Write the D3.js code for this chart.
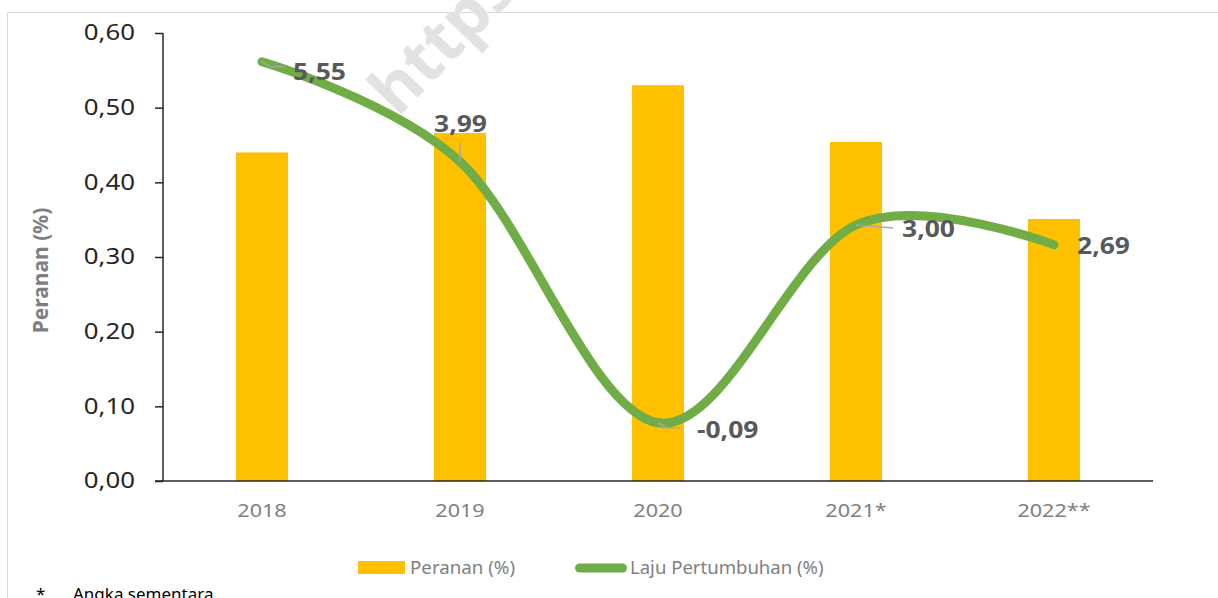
<!DOCTYPE html>
<html>
<head>
<meta charset="utf-8">
<script src="https://cdn.jsdelivr.net/npm/d3@7"></script>
<style>
  body { margin: 0; background: #fff; }
  svg { display: block; }
</style>
</head>
<body>
<div id="chart"></div>
<script>
// data
var years = ['2018', '2019', '2020', '2021*', '2022**'];
var peranan = [0.44, 0.466, 0.53, 0.454, 0.351];
var laju = [5.55, 3.99, -0.09, 3.00, 2.69];
var lajuLabels = ['5,55', '3,99', '-0,09', '3,00', '2,69'];
var yTicks = [0, 0.1, 0.2, 0.3, 0.4, 0.5, 0.6];

var width = 1218,
    height = 598,
    margin = { left: 163, right: 65, top: 33, bottom: 117 };

var chartWidth = width - margin.left - margin.right;
var chartHeight = height - margin.top - margin.bottom;

// the source picture is a bit wider than the fonts we have, stretch text to fit
function stretch(sel, k) {
    sel.each(function() {
        var w = this.getComputedTextLength();
        d3.select(this)
            .attr('textLength', w * k)
            .attr('lengthAdjust', 'spacingAndGlyphs');
    });
}

var svg = d3.select('#chart').append('svg')
    .attr('width', width)
    .attr('height', height);

// outer frame
svg.append('rect')
    .attr('x', 7.5).attr('y', 12.5)
    .attr('width', width)
    .attr('height', height)
    .attr('fill', 'none')
    .attr('stroke', '#d9d9d9')
    .attr('stroke-width', 1);

// watermark
svg.append('text')
    .attr('transform', 'translate(398,118) rotate(-46)')
    .attr('font-family', 'Noto Sans')
    .attr('font-weight', 'bold')
    .attr('font-size', 66)
    .attr('fill', '#e2e2e2')
    .text('https');

var g = svg.append('g')
    .attr('transform', 'translate(' + margin.left + ',' + margin.top + ')');

var x = d3.scaleBand().domain(years).range([0, chartWidth]);
var y = d3.scaleLinear().domain([0, 0.6]).range([chartHeight, 0]);
// hidden secondary axis for growth
var y2 = d3.scaleLinear().domain([-1, 6]).range([chartHeight, 0]);

var barW = 52;

// bars
g.selectAll('rect.bar')
    .data(peranan)
    .enter().append('rect')
    .attr('class', 'bar')
    .attr('x', (d, i) => x(years[i]) + x.bandwidth() / 2 - barW / 2)
    .attr('y', d => y(d))
    .attr('width', barW)
    .attr('height', d => chartHeight - y(d))
    .attr('fill', '#FFC000');

// y axis
var yAxis = d3.axisLeft(y)
    .tickValues(yTicks)
    .tickSize(8)
    .tickPadding(20)
    .tickFormat(d => d3.format('.2f')(d).replace('.', ','));

var yG = g.append('g').attr('class', 'axis y').call(yAxis);
yG.select('.domain').attr('stroke', '#262626').attr('stroke-width', 1.5)
    .attr('d', 'M0,0V' + chartHeight);
yG.selectAll('.tick line').attr('stroke', '#262626').attr('stroke-width', 1.5);
yG.selectAll('.tick text')
    .attr('font-family', 'Noto Sans')
    .attr('font-size', 21)
    .attr('fill', '#262626')
    .call(stretch, 1.23);

// x axis
var xAxis = d3.axisBottom(x).tickSize(0).tickPadding(23);
var xG = g.append('g').attr('class', 'axis x')
    .attr('transform', 'translate(0,' + chartHeight + ')')
    .call(xAxis);
xG.select('.domain').attr('stroke', '#262626').attr('stroke-width', 1.5)
    .attr('d', 'M-8,0H' + chartWidth);
xG.selectAll('.tick text')
    .attr('font-family', 'Noto Sans')
    .attr('font-size', 18)
    .attr('fill', '#7f7f7f')
    .call(stretch, 1.2);

// y title
svg.append('text')
    .attr('transform', 'translate(48,' + (margin.top + chartHeight * 0.53) + ') rotate(-90)')
    .attr('text-anchor', 'middle')
    .attr('font-family', 'Noto Sans')
    .attr('font-weight', 'bold')
    .attr('font-size', 21)
    .attr('fill', '#7f7f7f')
    .text('Peranan (%)');

// growth line
var line = d3.line()
    .x((d, i) => x(years[i]) + x.bandwidth() / 2)
    .y(d => y2(d))
    .curve(d3.curveCardinal.tension(0));

g.append('path')
    .datum(laju)
    .attr('d', line)
    .attr('fill', 'none')
    .attr('stroke', '#70AD47')
    .attr('stroke-width', 9)
    .attr('stroke-linecap', 'round');

// leader lines + labels
var labelDx = [31, -26, 39, 46, 23];
var labelDy = [10, -38, 7, 4, 1];

g.selectAll('path.leader')
    .data(laju.slice(0, 4))
    .enter().append('path')
    .attr('class', 'leader')
    .attr('d', (d, i) => {
        var cx = x(years[i]) + x.bandwidth() / 2, cy = y2(d);
        if (i === 1) return 'M' + cx + ',' + cy + 'V' + (cy - 19);
        if (i === 3) return 'M' + cx + ',' + cy + 'L' + (cx + 37) + ',' + (cy + 3);
        return 'M' + cx + ',' + cy + 'L' + (cx + 9) + ',' + (cy + 5) + 'H' + (cx + 23);
    })
    .attr('fill', 'none')
    .attr('stroke', '#a6a6a6')
    .attr('stroke-width', 1.5);

g.selectAll('text.lbl')
    .data(laju)
    .enter().append('text')
    .attr('class', 'lbl')
    .attr('x', (d, i) => x(years[i]) + x.bandwidth() / 2 + labelDx[i])
    .attr('y', (d, i) => y2(d) + labelDy[i])
    .attr('dy', '0.35em')
    .attr('font-family', 'Noto Sans')
    .attr('font-weight', 'bold')
    .attr('font-size', 23)
    .attr('fill', '#595959')
    .text((d, i) => lajuLabels[i])
    .call(stretch, 1.15);

// legend
var leg = svg.append('g').attr('transform', 'translate(0,568)');
leg.append('rect')
    .attr('x', 358).attr('y', -7)
    .attr('width', 47).attr('height', 13)
    .attr('fill', '#FFC000');
leg.append('text')
    .attr('x', 410).attr('dy', '0.35em')
    .attr('font-family', 'Noto Sans')
    .attr('font-size', 18)
    .attr('fill', '#7f7f7f')
    .text('Peranan (%)')
    .call(stretch, 1.04);
leg.append('line')
    .attr('x1', 579.5).attr('x2', 622.5)
    .attr('stroke', '#70AD47')
    .attr('stroke-width', 9)
    .attr('stroke-linecap', 'round');
leg.append('text')
    .attr('x', 630).attr('dy', '0.35em')
    .attr('font-family', 'Noto Sans')
    .attr('font-size', 18)
    .attr('fill', '#7f7f7f')
    .text('Laju Pertumbuhan (%)')
    .call(stretch, 1.03);

// footnote (cut off by the bottom edge, as in the source)
svg.append('text')
    .attr('x', 36).attr('y', 600)
    .attr('font-family', 'Noto Sans')
    .attr('font-size', 17)
    .attr('fill', '#000')
    .text('*');
svg.append('text')
    .attr('x', 73).attr('y', 600)
    .attr('font-family', 'Noto Sans')
    .attr('font-size', 17)
    .attr('fill', '#000')
    .text('Angka sementara');
</script>
</body>
</html>
